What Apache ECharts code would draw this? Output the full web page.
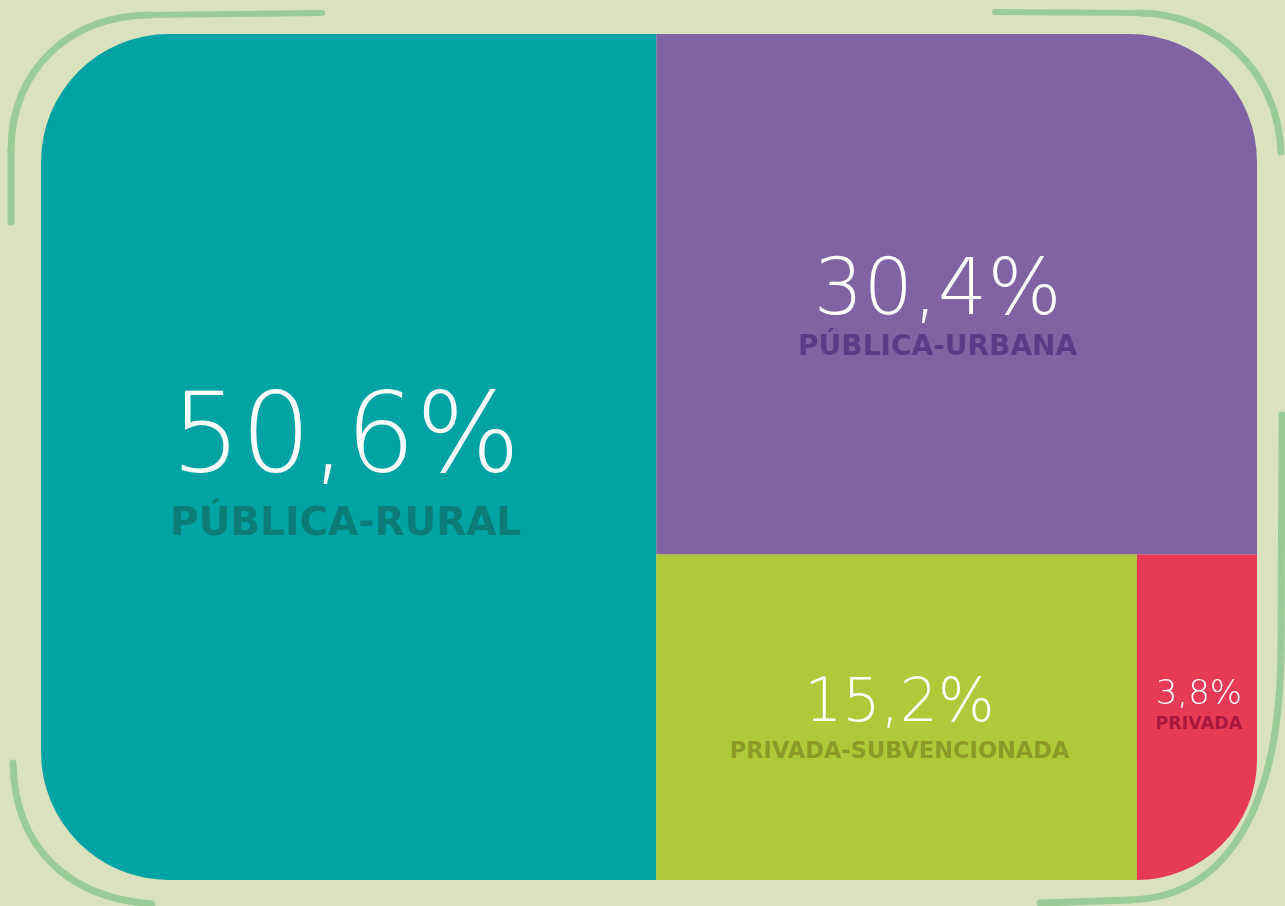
<!DOCTYPE html>
<html>
<head>
<meta charset="utf-8">
<title>Matrícula por dependencia</title>
<script src="https://cdn.jsdelivr.net/npm/echarts@6/dist/echarts.min.js"></script>
<style>
  html, body { margin: 0; padding: 0; background: #d9e1bf; }
  #main { width: 1285px; height: 906px; }
</style>
</head>
<body>
<div id="main"></div>
<script>
// data
var categories = ['PÚBLICA-RURAL', 'PÚBLICA-URBANA', 'PRIVADA-SUBVENCIONADA', 'PRIVADA'];
var values = [50.6, 30.4, 15.2, 3.8];

// styles per block
var fillColors = ['#00a3a3', '#7f63a2', '#aeca3a', '#e63a55'];
var nameColors = ['#0b7c77', '#5b3b88', '#8b9a29', '#a8173f'];
var numSizes = [110, 78, 60, 34];
var numLines = [125, 79, 70, 41];
var nameSizes = [39, 28, 22.5, 17.5];
var nameLines = [40, 30, 24, 18];
var radii = [[128, 0, 0, 128], [0, 128, 0, 0], [0, 0, 0, 0], [0, 0, 128, 0]];
// label shift from the block's top centre
var offsets = [[-3, 341], [-19, 215], [3, 111], [2, 115]];

var chart = echarts.init(document.getElementById('main'));

function pct(v) {
    return v.toFixed(1).replace('.', ',') + '%';
}

var seriesData = categories.map(function (name, i) {
    return {
        name: name,
        value: values[i],
        itemStyle: {
            color: fillColors[i],
            borderRadius: radii[i]
        },
        label: {
            offset: offsets[i],
            rich: {
                v: {
                    fontFamily: 'DejaVu Sans',
                    fontWeight: 200,
                    fontSize: numSizes[i],
                    lineHeight: numLines[i],
                    color: '#ffffff',
                    align: 'center'
                },
                n: {
                    fontFamily: 'DejaVu Sans',
                    fontWeight: 'bold',
                    fontSize: nameSizes[i],
                    lineHeight: nameLines[i],
                    color: nameColors[i],
                    align: 'center'
                }
            }
        }
    };
});

var stroke = { stroke: '#9bcb99', lineWidth: 7, fill: null, lineCap: 'round' };

var option = {
    backgroundColor: '#d9e1bf',
    graphic: [
        // hand drawn frame strokes
        { type: 'line', shape: { x1: 11, y1: 222, x2: 11, y2: 150 }, style: stroke },
        { type: 'bezierCurve', shape: { x1: 11, y1: 150, cpx1: 11, cpy1: 70, cpx2: 70, cpy2: 15, x2: 150, y2: 15 }, style: stroke },
        { type: 'line', shape: { x1: 150, y1: 15, x2: 322, y2: 13 }, style: { stroke: '#9bcb99', lineWidth: 6, lineCap: 'round' } },
        { type: 'line', shape: { x1: 995, y1: 12, x2: 1140, y2: 13 }, style: { stroke: '#9bcb99', lineWidth: 6, lineCap: 'round' } },
        { type: 'bezierCurve', shape: { x1: 1140, y1: 13, cpx1: 1215, cpy1: 14, cpx2: 1278, cpy2: 70, x2: 1281, y2: 152 }, style: stroke },
        { type: 'line', shape: { x1: 1282, y1: 415, x2: 1281, y2: 650 }, style: stroke },
        { type: 'bezierCurve', shape: { x1: 1281, y1: 650, cpx1: 1280, cpy1: 800, cpx2: 1232, cpy2: 897, x2: 1130, y2: 900 }, style: stroke },
        { type: 'line', shape: { x1: 1130, y1: 900, x2: 1040, y2: 903 }, style: stroke },
        { type: 'bezierCurve', shape: { x1: 13, y1: 763, cpx1: 15, cpy1: 850, cpx2: 70, cpy2: 898, x2: 152, y2: 904 }, style: stroke }
    ],
    series: [
        {
            type: 'treemap',
            left: 41,
            top: 34,
            width: 1216,
            height: 846,
            roam: false,
            nodeClick: false,
            squareRatio: 1,
            breadcrumb: { show: false },
            animation: false,
            itemStyle: {
                borderWidth: 0,
                gapWidth: 0,
                borderColor: 'rgba(0,0,0,0)'
            },
            levels: [
                {
                    itemStyle: {
                        borderWidth: 0,
                        gapWidth: 0,
                        borderColor: 'rgba(0,0,0,0)'
                    }
                }
            ],
            label: {
                show: true,
                position: 'inside',
                overflow: 'none',
                formatter: function (p) {
                    return '{v|' + pct(p.value) + '}\n{n|' + p.name + '}';
                }
            },
            emphasis: { disabled: true },
            data: seriesData
        }
    ]
};

chart.setOption(option);
</script>
</body>
</html>
